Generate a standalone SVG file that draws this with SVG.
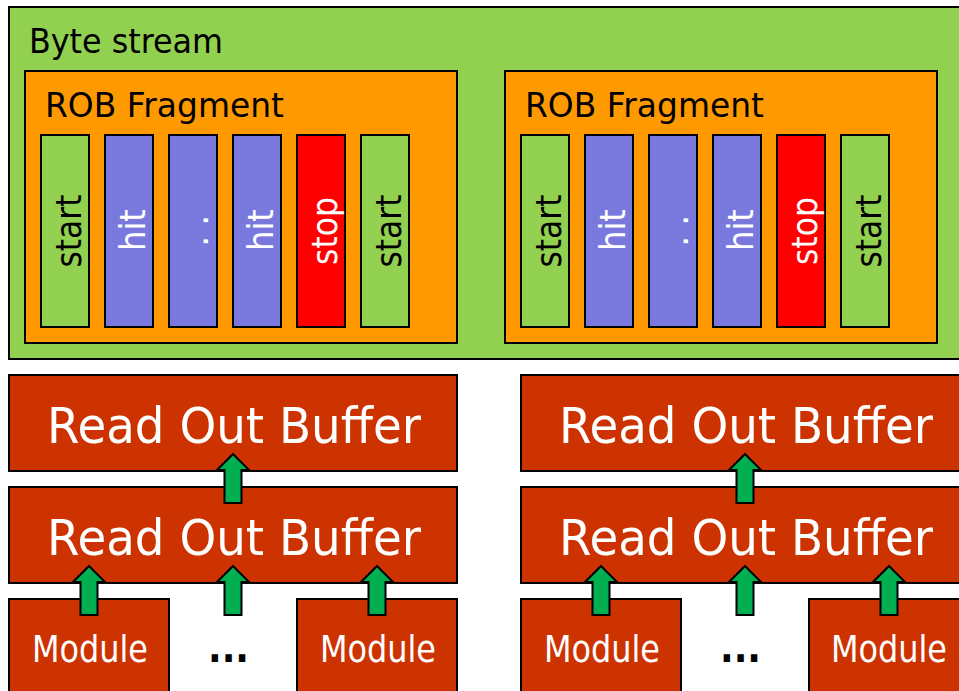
<svg xmlns="http://www.w3.org/2000/svg" width="959" height="691" viewBox="0 0 959 691">
  <style>
    .box { stroke: #000; stroke-width: 2; }
    .stream { fill: #92D050; }
    .frag { fill: #FF9900; }
    .start { fill: #92D050; }
    .hit { fill: #7979DD; }
    .stop { fill: #FF0000; }
    .rob { fill: #CC3300; }
    .arrow { fill: #00B050; stroke: #000; stroke-width: 2; stroke-linejoin: miter; }
    text { font-family: "DejaVu Sans", Verdana, sans-serif; }
    .title { font-size: 34px; fill: #000; }
    .bar { font-size: 36px; text-anchor: middle; }
    .more { font-size: 36px; }
    .dark { fill: #000; }
    .light { fill: #fff; }
    .robtext { font-size: 50px; fill: #fff; text-anchor: middle; }
    .modtext { font-size: 38px; fill: #fff; text-anchor: middle; }
    .dots { font-size: 40px; font-weight: bold; fill: #000; }
  </style>
  <defs>
    <!-- upward block arrow, tip at origin -->
    <path id="up-short" class="arrow" d="M0,0 L16,16 L8.5,16 L8.5,49 L-8.5,49 L-8.5,16 L-16,16 Z"/>
  </defs>

  <!-- byte stream container -->
  <g id="byte-stream">
    <rect class="box stream" x="9" y="7" width="970" height="352"/>
    <text class="title" x="29" y="53" textLength="194" lengthAdjust="spacingAndGlyphs">Byte stream</text>
  </g>

  <!-- left ROB fragment -->
  <g id="fragment-left">
    <rect class="box frag" x="25" y="71" width="432" height="272"/>
    <text class="title" x="45" y="117" textLength="239" lengthAdjust="spacingAndGlyphs">ROB Fragment</text>
    <g id="fl-start1">
      <rect class="box start" x="41" y="135" width="48" height="192"/>
      <text class="bar dark" transform="translate(81,231) rotate(-90)" textLength="73" lengthAdjust="spacingAndGlyphs">start</text>
    </g>
    <g id="fl-hit1">
      <rect class="box hit" x="105" y="135" width="48" height="192"/>
      <text class="bar light" transform="translate(145,230) rotate(-90)" textLength="42" lengthAdjust="spacingAndGlyphs">hit</text>
    </g>
    <g id="fl-more">
      <rect class="box hit" x="169" y="135" width="48" height="192"/>
      <text class="more light" transform="translate(208,231) rotate(-90)" x="-16"><tspan>.</tspan><tspan dx="9.6">.</tspan></text>
    </g>
    <g id="fl-hit2">
      <rect class="box hit" x="233" y="135" width="48" height="192"/>
      <text class="bar light" transform="translate(273,230) rotate(-90)" textLength="42" lengthAdjust="spacingAndGlyphs">hit</text>
    </g>
    <g id="fl-stop">
      <rect class="box stop" x="297" y="135" width="48" height="192"/>
      <text class="bar light" transform="translate(337,231) rotate(-90)" textLength="68" lengthAdjust="spacingAndGlyphs">stop</text>
    </g>
    <g id="fl-start2">
      <rect class="box start" x="361" y="135" width="48" height="192"/>
      <text class="bar dark" transform="translate(401,231) rotate(-90)" textLength="73" lengthAdjust="spacingAndGlyphs">start</text>
    </g>
  </g>

  <!-- right ROB fragment -->
  <g id="fragment-right">
    <rect class="box frag" x="505" y="71" width="432" height="272"/>
    <text class="title" x="525" y="117" textLength="239" lengthAdjust="spacingAndGlyphs">ROB Fragment</text>
    <g id="fr-start1">
      <rect class="box start" x="521" y="135" width="48" height="192"/>
      <text class="bar dark" transform="translate(561,231) rotate(-90)" textLength="73" lengthAdjust="spacingAndGlyphs">start</text>
    </g>
    <g id="fr-hit1">
      <rect class="box hit" x="585" y="135" width="48" height="192"/>
      <text class="bar light" transform="translate(625,230) rotate(-90)" textLength="42" lengthAdjust="spacingAndGlyphs">hit</text>
    </g>
    <g id="fr-more">
      <rect class="box hit" x="649" y="135" width="48" height="192"/>
      <text class="more light" transform="translate(688,231) rotate(-90)" x="-16"><tspan>.</tspan><tspan dx="9.6">.</tspan></text>
    </g>
    <g id="fr-hit2">
      <rect class="box hit" x="713" y="135" width="48" height="192"/>
      <text class="bar light" transform="translate(753,230) rotate(-90)" textLength="42" lengthAdjust="spacingAndGlyphs">hit</text>
    </g>
    <g id="fr-stop">
      <rect class="box stop" x="777" y="135" width="48" height="192"/>
      <text class="bar light" transform="translate(817,231) rotate(-90)" textLength="68" lengthAdjust="spacingAndGlyphs">stop</text>
    </g>
    <g id="fr-start2">
      <rect class="box start" x="841" y="135" width="48" height="192"/>
      <text class="bar dark" transform="translate(881,231) rotate(-90)" textLength="73" lengthAdjust="spacingAndGlyphs">start</text>
    </g>
  </g>

  <!-- left readout chain -->
  <g id="rob-left-top">
    <rect class="box rob" x="9" y="375" width="448" height="96"/>
    <text class="robtext" x="234" y="443" textLength="374" lengthAdjust="spacingAndGlyphs">Read Out Buffer</text>
  </g>
  <g id="rob-left-bottom">
    <rect class="box rob" x="9" y="487" width="448" height="96"/>
    <text class="robtext" x="234" y="555" textLength="374" lengthAdjust="spacingAndGlyphs">Read Out Buffer</text>
  </g>
  <g id="module-left-1">
    <rect class="box rob" x="9" y="599" width="160" height="110"/>
    <text class="modtext" x="90" y="662" textLength="116" lengthAdjust="spacingAndGlyphs">Module</text>
  </g>
  <g id="module-left-gap">
    <text class="dots" x="208" y="662" textLength="41" lengthAdjust="spacingAndGlyphs">...</text>
  </g>
  <g id="module-left-2">
    <rect class="box rob" x="297" y="599" width="160" height="110"/>
    <text class="modtext" x="378" y="662" textLength="116" lengthAdjust="spacingAndGlyphs">Module</text>
  </g>

  <!-- right readout chain -->
  <g id="rob-right-top">
    <rect class="box rob" x="521" y="375" width="448" height="96"/>
    <text class="robtext" x="746" y="443" textLength="374" lengthAdjust="spacingAndGlyphs">Read Out Buffer</text>
  </g>
  <g id="rob-right-bottom">
    <rect class="box rob" x="521" y="487" width="448" height="96"/>
    <text class="robtext" x="746" y="555" textLength="374" lengthAdjust="spacingAndGlyphs">Read Out Buffer</text>
  </g>
  <g id="module-right-1">
    <rect class="box rob" x="521" y="599" width="160" height="110"/>
    <text class="modtext" x="602" y="662" textLength="116" lengthAdjust="spacingAndGlyphs">Module</text>
  </g>
  <g id="module-right-gap">
    <text class="dots" x="720" y="662" textLength="41" lengthAdjust="spacingAndGlyphs">...</text>
  </g>
  <g id="module-right-2">
    <rect class="box rob" x="809" y="599" width="160" height="110"/>
    <text class="modtext" x="889" y="662" textLength="116" lengthAdjust="spacingAndGlyphs">Module</text>
  </g>

  <!-- data flow arrows -->
  <g id="connectors">
    <use href="#up-short" x="233" y="454"/>
    <use href="#up-short" x="89" y="566"/>
    <use href="#up-short" x="233" y="566"/>
    <use href="#up-short" x="377" y="566"/>
    <use href="#up-short" x="745" y="454"/>
    <use href="#up-short" x="601" y="566"/>
    <use href="#up-short" x="745" y="566"/>
    <use href="#up-short" x="889" y="566"/>
  </g>
</svg>
